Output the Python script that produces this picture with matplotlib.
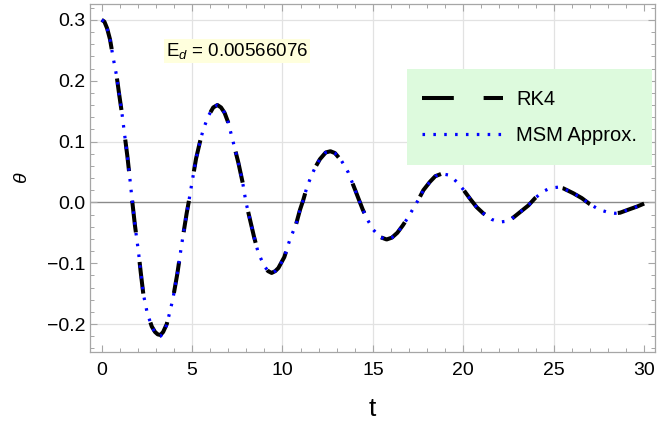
import matplotlib
matplotlib.use('Agg')
import matplotlib.pyplot as plt
from matplotlib.patches import Rectangle
from matplotlib.ticker import MultipleLocator

plt.rcParams['font.family'] = ['Liberation Sans', 'DejaVu Sans']
plt.rcParams['mathtext.fontset'] = 'custom'
plt.rcParams['mathtext.rm'] = 'Liberation Sans'
plt.rcParams['mathtext.it'] = 'Liberation Sans:italic'

# values
t_vals = [0.00, 0.15, 0.30, 0.46, 0.64, 0.83, 0.97, 1.14, 1.27, 1.42, 1.57, 1.69, 1.84,
          2.03, 2.16, 2.30, 2.52, 2.77, 2.95, 3.10, 3.25, 3.40, 3.60, 3.93, 4.18, 4.42,
          4.70, 4.81, 4.98, 5.22, 5.44, 5.62, 5.90, 6.17, 6.40, 6.60, 6.80, 7.00, 7.24,
          7.56, 7.80, 7.98, 8.20, 8.42, 8.66, 8.98, 9.20, 9.40, 9.60, 9.77, 10.10, 10.41,
          10.75, 10.97, 11.15, 11.34, 11.56, 11.80, 12.07, 12.39, 12.65, 12.90, 13.27,
          13.64, 14.01, 14.23, 14.44, 14.69, 15.02, 15.39, 15.76, 16.05, 16.35, 16.65,
          16.96, 17.23, 17.51, 17.79, 18.16, 18.45, 18.80, 19.17, 19.45, 19.72, 20.00,
          20.37, 20.74, 21.10, 21.57, 21.85, 22.12, 22.40, 22.68, 23.14, 23.60, 23.97,
          24.42, 24.70, 24.98, 25.25, 25.53, 26.08, 26.55, 27.00, 27.52, 28.07, 28.40,
          28.67, 29.22, 29.60, 30.00]

rk4_theta = [0.300, 0.297, 0.286, 0.268, 0.237, 0.207, 0.177, 0.142, 0.111, 0.076, 0.036,
             0.002, -0.038, -0.080, -0.115, -0.150, -0.182, -0.204, -0.213, -0.217, -0.218,
             -0.213, -0.200, -0.160, -0.118, -0.070, -0.018, 0.000, 0.030, 0.072, 0.100,
             0.120, 0.142, 0.156, 0.160, 0.156, 0.147, 0.131, 0.103, 0.065, 0.032, 0.000,
             -0.028, -0.056, -0.083, -0.104, -0.113, -0.116, -0.113, -0.108, -0.090, -0.061,
             -0.036, -0.012, 0.004, 0.024, 0.041, 0.057, 0.071, 0.082, 0.084, 0.081, 0.068,
             0.049, 0.021, 0.004, -0.012, -0.028, -0.045, -0.057, -0.061, -0.058, -0.050,
             -0.038, -0.024, -0.010, 0.004, 0.020, 0.034, 0.043, 0.047, 0.045, 0.039, 0.031,
             0.021, 0.006, -0.008, -0.018, -0.028, -0.031, -0.032, -0.031, -0.027, -0.016,
             -0.005, 0.007, 0.018, 0.022, 0.024, 0.025, 0.023, 0.015, 0.007, -0.003, -0.012,
             -0.017, -0.018, -0.017, -0.011, -0.007, -0.002]

msm_theta = [0.300, 0.297, 0.286, 0.268, 0.237, 0.207, 0.177, 0.142, 0.111, 0.076, 0.036,
             0.002, -0.038, -0.080, -0.115, -0.150, -0.182, -0.204, -0.214, -0.219, -0.220,
             -0.215, -0.201, -0.160, -0.118, -0.070, -0.018, 0.000, 0.030, 0.072, 0.100,
             0.120, 0.142, 0.156, 0.160, 0.156, 0.147, 0.131, 0.103, 0.065, 0.032, 0.000,
             -0.028, -0.056, -0.083, -0.104, -0.113, -0.116, -0.113, -0.108, -0.090, -0.061,
             -0.036, -0.012, 0.004, 0.024, 0.041, 0.057, 0.071, 0.082, 0.084, 0.081, 0.068,
             0.049, 0.021, 0.004, -0.012, -0.028, -0.045, -0.057, -0.061, -0.058, -0.050,
             -0.038, -0.024, -0.010, 0.004, 0.020, 0.034, 0.043, 0.047, 0.045, 0.039, 0.031,
             0.021, 0.006, -0.008, -0.018, -0.028, -0.031, -0.032, -0.031, -0.027, -0.016,
             -0.005, 0.007, 0.018, 0.022, 0.024, 0.025, 0.023, 0.015, 0.007, -0.003, -0.012,
             -0.017, -0.018, -0.017, -0.011, -0.007, -0.002]

x_ticks = [0, 5, 10, 15, 20, 25, 30]
y_ticks = [-0.2, -0.1, 0.0, 0.1, 0.2, 0.3]
v_grid = [5, 10, 15, 20, 25]
h_grid = [-0.2, 0.1, 0.3]
error_label = 'E$_{d}$ = 0.00566076'

fig = plt.figure(figsize=(6.67, 4.23), dpi=100)
ax = fig.add_axes([0.1349, 0.1678, 0.8471, 0.8227])

frame_gray = '#a6a6a6'
grid_gray = '#e2e2e2'

for x in v_grid:
    ax.axvline(x, color=grid_gray, lw=0.9, zorder=0.5)
for y in h_grid:
    ax.axhline(y, color=grid_gray, lw=0.9, zorder=0.5)
ax.axhline(0, color='#8a8a8a', lw=1.0, zorder=0.6)

ax.plot(t_vals, rk4_theta, color='black', lw=2.9, linestyle=(0, (7.9, 7.4)),
        dash_capstyle='butt', label='RK4', zorder=2)
ax.plot(t_vals, msm_theta, color='#0000ff', lw=2.3, linestyle=(0, (0.8, 2.6)),
        dash_capstyle='butt', label='MSM Approx.', zorder=3)

ax.set_xlim(-0.647, 30.60)
ax.set_ylim(-0.246, 0.326)

ax.set_xticks(x_ticks)
ax.set_yticks(y_ticks)
ax.set_yticklabels([f'{v:.1f}'.replace('-', '\u2212') for v in y_ticks])
ax.xaxis.set_minor_locator(MultipleLocator(1))
ax.yaxis.set_minor_locator(MultipleLocator(0.02))
ax.tick_params(which='both', direction='in', top=True, right=True, color=frame_gray,
               labelsize=14, labelcolor='black')
ax.tick_params(which='major', length=5, width=0.8)
ax.tick_params(which='minor', length=3, width=0.7)
ax.tick_params(axis='x', pad=7)
ax.tick_params(axis='y', pad=3.5)
for s in ax.spines.values():
    s.set_color(frame_gray)
    s.set_linewidth(0.9)

ax.set_xlabel('t', fontsize=19, labelpad=13)
ax.set_ylabel('\u03b8', fontsize=14, style='italic', labelpad=12)

# legend box
ax.add_patch(Rectangle((0.561, 0.537), 0.434, 0.276, transform=ax.transAxes,
                       facecolor='#ddfadd', edgecolor='none', zorder=4))
ax.legend(loc='center', bbox_to_anchor=(0.778, 0.675), frameon=False, fontsize=14.5,
          handlelength=4.0, handletextpad=0.65, labelspacing=0.85, borderpad=0,
          borderaxespad=0).set_zorder(5)

ax.text(0.260, 0.865, error_label, transform=ax.transAxes, ha='center', va='center',
        fontsize=13.5, bbox=dict(facecolor='#ffffdd', edgecolor='none', pad=1.5), zorder=5)

fig.savefig('out.png', dpi=100)
